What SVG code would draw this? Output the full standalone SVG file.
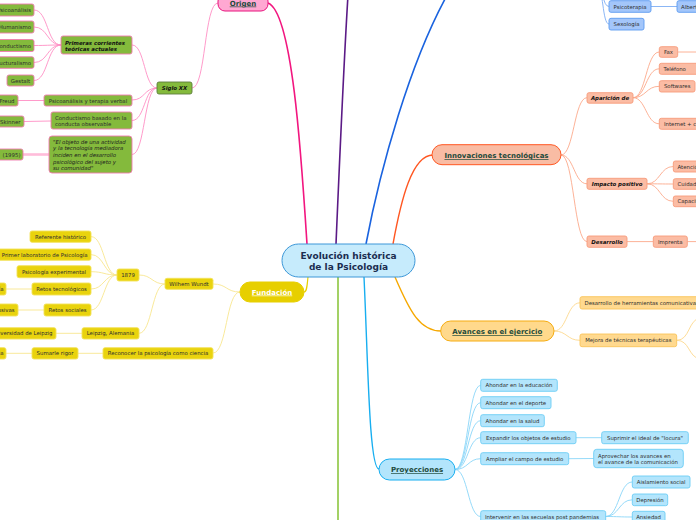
<svg xmlns="http://www.w3.org/2000/svg" width="696" height="520" viewBox="0 0 696 520">
<style>
text{font-family:"DejaVu Sans",Verdana,sans-serif;font-size:5.4px;fill:#2e2e2e}
.m{text-anchor:middle}
.e{text-anchor:end}
.bi{font-weight:bold;font-style:italic;fill:#111}
.it{font-style:italic;fill:#1e1e1e}
.lbl{font-size:7px;font-weight:bold;text-decoration:underline;fill:#1d4a3b;text-anchor:middle}
.ctr{font-size:9px;font-weight:bold;fill:#1b2d50;text-anchor:middle}
.g rect{fill:#84ba3c;stroke:#f07cb0;stroke-width:0.9}
.y rect{fill:#e9d30d;stroke:#f3e25a;stroke-width:0.9}
.s rect{fill:#fbbca4;stroke:#f79b7b;stroke-width:0.9}
.o rect{fill:#ffd98f;stroke:#f9c45a;stroke-width:0.9}
.lb rect{fill:#b3e5fc;stroke:#6ccdf5;stroke-width:0.9}
.db rect{fill:#a3c6fa;stroke:#5c9bf0;stroke-width:0.9}
#connectors path{fill:none}
.cp{stroke:#ff8ec4;stroke-width:0.9}
.cy{stroke:#f8e68e;stroke-width:0.9}
.cs{stroke:#fca98b;stroke-width:0.9}
.co{stroke:#fdd88c;stroke-width:0.9}
.cl{stroke:#8ad6f8;stroke-width:0.9}
.cd{stroke:#7eaef4;stroke-width:0.9}
</style>
<rect width="696" height="520" fill="#ffffff"/>
<g id="connectors">
<path d="M307,244 C301,150 292,12 268,3" stroke="#f2167f" stroke-width="1.6"/>
<path d="M336,244 C340,150 344,60 348,-5" stroke="#5b1a86" stroke-width="1.6"/>
<path d="M366,244 C380,170 410,60 450,-10" stroke="#1a63df" stroke-width="1.6"/>
<path d="M393,244 C401,200 412,155 433,155" stroke="#ff5722" stroke-width="1.4"/>
<path d="M395,277 C410,312 420,331 441,331" stroke="#f6a800" stroke-width="1.4"/>
<path d="M364,277 C368,360 369,469 379,469" stroke="#17aef0" stroke-width="1.4"/>
<path d="M338,277 L338,525" stroke="#8cc63f" stroke-width="1.6"/>
<path d="M308,277 C307,286 307,292 304,292" stroke="#e8d000" stroke-width="1.2"/>
<path class="cp" d="M218,3 C204,3 206,88 192,88"/>
<path class="cp" d="M157,88 C144,88 145,45 132,45"/>
<path class="cp" d="M157,88 C144,88 145,100 132,100"/>
<path class="cp" d="M157,88 C144,88 145,120.5 132,120.5"/>
<path class="cp" d="M157,88 C144,88 145,154.5 132,154.5"/>
<path class="cp" d="M61,45 C47,45 48,10 34,10"/>
<path class="cp" d="M61,45 C47,45 48,27 34,27"/>
<path class="cp" d="M61,45 C47,45 48,45.5 34,45.5"/>
<path class="cp" d="M61,45 C47,45 48,62.5 34,62.5"/>
<path class="cp" d="M61,45 C47,45 48,80.5 34,80.5"/>
<path class="cp" d="M44,100.5 L18,100.5" stroke-width="1.3"/>
<path class="cp" d="M51,121 L24,121.5" stroke-width="1.3" stroke="#ffb6d6"/>
<path d="M49,154.5 L23,154.5" stroke="#ffbcda" stroke-width="2.6"/>
<path class="cy" d="M240,292 C226,292 227,284 213,284"/>
<path class="cy" d="M240,292 C226,292 227,353 213,353"/>
<path class="cy" d="M165,284 C152,284 152,275 139,275"/>
<path class="cy" d="M165,284 C152,284 152,333.3 139,333.3"/>
<path class="cy" d="M117,275 C104,275 104,236.6 91,236.6"/>
<path class="cy" d="M117,275 C104,275 104,254.6 91,254.6"/>
<path class="cy" d="M117,275 C104,275 104,271.7 91,271.7"/>
<path class="cy" d="M117,275 C104,275 104,289 91,289"/>
<path class="cy" d="M117,275 C104,275 104,310 91,310"/>
<path class="cy" d="M32,289 L6,289"/>
<path class="cy" d="M44,310 L18,310"/>
<path class="cy" d="M82,333.3 L56,333.3"/>
<path class="cy" d="M103,353.3 L78,353.3"/>
<path class="cy" d="M32,353.3 L6,353.3"/>
<path class="cd" d="M596,-14 C604,-14 602,6.5 609,6.5"/>
<path class="cd" d="M596,-14 C604,-14 602,24 609,24"/>
<path class="cd" d="M651,6.5 L677,6.5" stroke-width="1.1"/>
<path class="cs" d="M561,155 C574,155 574,97.7 587,97.7"/>
<path class="cs" d="M561,155 C574,155 574,183.8 587,183.8"/>
<path class="cs" d="M561,155 C574,155 574,241.6 587,241.6"/>
<path class="cs" d="M633,97.7 C646,97.7 646,52 659.3,52"/>
<path class="cs" d="M633,97.7 C646,97.7 646,68.8 659.3,68.8"/>
<path class="cs" d="M633,97.7 C646,97.7 646,86.3 659.3,86.3"/>
<path class="cs" d="M633,97.7 C646,97.7 646,123.8 659.3,123.8"/>
<path class="cs" d="M678,52 L700,52"/>
<path class="cs" d="M647,183.8 C660,183.8 660,166.5 673.3,166.5"/>
<path class="cs" d="M647,183.8 C660,183.8 660,184 673.3,184"/>
<path class="cs" d="M647,183.8 C660,183.8 660,201.3 673.3,201.3"/>
<path class="cs" d="M627,241.6 L653.3,241.6"/>
<path class="cs" d="M687.3,241.6 L700,241.6"/>
<path class="co" d="M554,331 C567,331 567,302.8 580,302.8"/>
<path class="co" d="M554,331 C567,331 567,340.3 580,340.3"/>
<path class="co" d="M676.7,340.3 C690,340.3 688,320 700,318"/>
<path class="co" d="M676.7,340.3 C690,340.3 688,357 700,359"/>
<path class="cl" d="M455,469.5 C468,469.5 468,385.3 480.7,385.3"/>
<path class="cl" d="M455,469.5 C468,469.5 468,402.7 480.7,402.7"/>
<path class="cl" d="M455,469.5 C468,469.5 468,420.7 480.7,420.7"/>
<path class="cl" d="M455,469.5 C468,469.5 468,437.7 480.7,437.7"/>
<path class="cl" d="M455,469.5 C468,469.5 468,458.7 480.7,458.7"/>
<path class="cl" d="M455,469.5 C468,469.5 468,516.5 480.7,516.5"/>
<path class="cl" d="M576,437.7 L601.7,437.7" stroke-width="1.2"/>
<path class="cl" d="M568.7,458.7 L593.7,458.5" stroke-width="1.2"/>
<path class="cl" d="M605.7,516.5 C619,516.5 619,482 632.3,482"/>
<path class="cl" d="M605.7,516.5 C619,516.5 619,499.8 632.3,499.8"/>
<path class="cl" d="M605.7,516.5 C619,516.5 619,517 632.3,517"/>
</g>
<g id="center"><rect x="282" y="244" width="133" height="33" rx="16.5" fill="#c6ebfc" stroke="#3c97d8" stroke-width="1"/><text class="ctr" x="348.5" y="259">Evolución histórica</text><text class="ctr" x="348.5" y="270">de la Psicología</text></g>
<g id="origen"><rect x="218" y="-6" width="50" height="17" rx="7" fill="#ffa8d2" stroke="#e8157f" stroke-width="1"/><text class="lbl" x="243" y="5.5">Origen</text></g>
<g id="fundacion"><rect x="240" y="282" width="64" height="20" rx="10" fill="#e7cf00" stroke="#e7cf00" stroke-width="1"/><text class="lbl" x="272" y="294.5" style="fill:#ffffff">Fundación</text></g>
<g id="innovaciones"><rect x="432" y="144.7" width="129" height="20" rx="10" fill="#f9bca4" stroke="#ff5722" stroke-width="1"/><text class="lbl" x="496.5" y="158.2">Innovaciones tecnológicas</text></g>
<g id="avances"><rect x="440.7" y="321" width="113.3" height="20" rx="10" fill="#ffd98c" stroke="#f6ac10" stroke-width="1"/><text class="lbl" x="497.3" y="334.3">Avances en el ejercicio</text></g>
<g id="proyecciones"><rect x="379" y="459" width="76" height="21" rx="10.5" fill="#b3e5fc" stroke="#17aef0" stroke-width="1"/><text class="lbl" x="417" y="472">Proyecciones</text></g>
<g id="siglo-xx" class="g"><rect x="157" y="82" width="35" height="12" rx="2" style="stroke:#5e7d3c"/><text class="m bi" x="174.5" y="90">Siglo XX</text></g>
<g id="primeras" class="g"><rect x="61" y="36" width="71" height="18" rx="2"/><text class="bi" x="65" y="44.8">Primeras corrientes</text><text class="bi" x="65" y="51">teóricas actuales</text></g>
<g id="psicoanalisis" class="g"><rect x="-8" y="4" width="42" height="12" rx="2"/><text class="e" x="31" y="12">Psicoanálisis</text></g>
<g id="humanismo" class="g"><rect x="-8" y="21" width="42" height="12" rx="2"/><text class="e" x="31" y="29">Humanismo</text></g>
<g id="conductismo" class="g"><rect x="-8" y="39.5" width="42" height="12" rx="2"/><text class="e" x="31" y="47.5">Conductismo</text></g>
<g id="estructuralismo" class="g"><rect x="-8" y="56.8" width="42" height="11.5" rx="2"/><text class="e" x="31" y="64.5">Estructuralismo</text></g>
<g id="gestalt" class="g"><rect x="7" y="75" width="27" height="11" rx="2"/><text class="m" x="20.5" y="82.5">Gestalt</text></g>
<g id="psic-terapia" class="g"><rect x="44" y="95" width="88" height="11" rx="2"/><text class="m" x="88" y="102.5">Psicoanálisis y terapia verbal</text></g>
<g id="freud" class="g"><rect x="-12" y="95" width="30" height="11" rx="2"/><text class="e" x="14.5" y="102.5">Freud</text></g>
<g id="conductismo-basado" class="g"><rect x="51" y="112" width="81" height="17" rx="2"/><text x="55" y="119.6">Conductismo basado en la</text><text x="55" y="126.2">conducta observable</text></g>
<g id="skinner" class="g"><rect x="-12" y="116" width="36" height="11" rx="2"/><text class="e" x="20.5" y="123.5">Skinner</text></g>
<g id="cita" class="g"><rect x="49" y="136" width="83" height="37" rx="3"/><text class="it" x="53" y="143.8">"El objeto de una actividad</text><text class="it" x="53" y="150.4">y la tecnología mediadora</text><text class="it" x="53" y="157">inciden en el desarrollo</text><text class="it" x="53" y="163.6">psicológico del sujeto y</text><text class="it" x="53" y="170.2">su comunidad"</text></g>
<g id="anio-1995" class="g"><rect x="-20" y="149" width="43" height="11" rx="2"/><text class="e" x="20.5" y="156.6">(1995)</text></g>
<g id="wundt" class="y"><rect x="165" y="278.3" width="48" height="11" rx="2"/><text class="m" x="189" y="285.8">Wilhem Wundt</text></g>
<g id="reconocer" class="y"><rect x="103" y="347.7" width="110" height="11.3" rx="2"/><text class="m" x="158" y="355.3">Reconocer la psicología como ciencia</text></g>
<g id="n1879" class="y"><rect x="117" y="269" width="22" height="12" rx="2"/><text class="m" x="128" y="277">1879</text></g>
<g id="leipzig" class="y"><rect x="82" y="327.7" width="57" height="11.3" rx="2"/><text class="m" x="110.5" y="335.3">Leipzig, Alemania</text></g>
<g id="referente" class="y"><rect x="30" y="231" width="61" height="11.3" rx="2"/><text class="m" x="60.5" y="238.6">Referente histórico</text></g>
<g id="laboratorio" class="y"><rect x="-6" y="249" width="97" height="11.3" rx="2"/><text class="e" x="87.5" y="256.6">Primer laboratorio de Psicología</text></g>
<g id="experimental" class="y"><rect x="17" y="265.7" width="74" height="12" rx="2"/><text class="m" x="54" y="273.6">Psicología experimental</text></g>
<g id="retos-tec" class="y"><rect x="32" y="283" width="59" height="12" rx="2"/><text class="m" x="61.5" y="290.9">Retos tecnológicos</text></g>
<g id="retos-tec-hijo" class="y"><rect x="-40" y="283" width="46" height="12" rx="2"/><text class="e" x="3.6" y="290.9">Tecnología</text></g>
<g id="retos-soc" class="y"><rect x="44" y="304" width="47" height="12" rx="2"/><text class="m" x="67.5" y="311.9">Retos sociales</text></g>
<g id="retos-soc-hijo" class="y"><rect x="-40" y="304" width="58" height="12" rx="2"/><text class="e" x="14.5" y="311.9">Inclusivas</text></g>
<g id="universidad" class="y"><rect x="-20" y="327.7" width="76" height="11.3" rx="2"/><text class="e" x="52.5" y="335.3">Universidad de Leipzig</text></g>
<g id="rigor" class="y"><rect x="32" y="347.7" width="46" height="11.3" rx="2"/><text class="m" x="55" y="355.3">Sumarle rigor</text></g>
<g id="rigor-hijo" class="y"><rect x="-40" y="347.7" width="46" height="11.3" rx="2"/><text class="e" x="3.6" y="355.3">Ciencia</text></g>
<g id="psicoterapia" class="db"><rect x="609" y="0.7" width="42" height="11.6" rx="2"/><text class="m" x="630" y="8.5">Psicoterapia</text></g>
<g id="sexologia" class="db"><rect x="609" y="18.3" width="35" height="11.7" rx="2"/><text class="m" x="626.5" y="26.1">Sexología</text></g>
<g id="ellis" class="db"><rect x="677" y="0.7" width="40" height="11.6" rx="2"/><text x="681" y="8.5">Albert Ellis</text></g>
<g id="aparicion" class="s"><rect x="587" y="92.7" width="46" height="10.5" rx="2"/><text class="m bi" x="610" y="99.8">Aparición de</text></g>
<g id="fax" class="s"><rect x="659.3" y="46.7" width="18.4" height="10.6" rx="2"/><text class="m" x="668.5" y="54">Fax</text></g>
<g id="telefono" class="s"><rect x="659.3" y="63.3" width="40" height="11" rx="2"/><text x="663.5" y="70.8">Teléfono</text></g>
<g id="softwares" class="s"><rect x="659.3" y="80.7" width="35.7" height="11.3" rx="2"/><text class="m" x="677.2" y="88.3">Softwares</text></g>
<g id="internet" class="s"><rect x="659.3" y="118.3" width="70" height="11" rx="2"/><text x="664" y="125.8">Internet + comunicación</text></g>
<g id="impacto" class="s"><rect x="587" y="178.3" width="60" height="11" rx="2"/><text class="m bi" x="617" y="185.8">Impacto positivo</text></g>
<g id="atencion" class="s"><rect x="673.3" y="161" width="40" height="11" rx="2"/><text x="677.5" y="168.5">Atención</text></g>
<g id="cuidado" class="s"><rect x="673.3" y="178.7" width="40" height="10.6" rx="2"/><text x="677.5" y="186">Cuidado</text></g>
<g id="capacitacion" class="s"><rect x="673.3" y="196" width="40" height="10.7" rx="2"/><text x="677.5" y="203.3">Capacitación</text></g>
<g id="desarrollo" class="s"><rect x="587" y="236" width="40" height="11.3" rx="2"/><text class="m bi" x="607" y="243.7">Desarrollo</text></g>
<g id="imprenta" class="s"><rect x="653.3" y="236" width="34" height="11.3" rx="2"/><text class="m" x="670.3" y="243.7">Imprenta</text></g>
<g id="herramientas" class="o"><rect x="580" y="296.7" width="130" height="12.3" rx="2"/><text x="584.5" y="304.8">Desarrollo de herramientas comunicativas</text></g>
<g id="mejora" class="o"><rect x="580" y="334" width="96.7" height="12.7" rx="2"/><text class="m" x="628.3" y="342.3">Mejora de técnicas terapéuticas</text></g>
<g id="educacion" class="lb"><rect x="480.7" y="379.3" width="76.6" height="12" rx="2"/><text class="m" x="519" y="387.3">Ahondar en la educación</text></g>
<g id="deporte" class="lb"><rect x="480.7" y="396.7" width="70.3" height="12" rx="2"/><text class="m" x="515.8" y="404.7">Ahondar en el deporte</text></g>
<g id="salud" class="lb"><rect x="480.7" y="414.7" width="63.6" height="12" rx="2"/><text class="m" x="512.5" y="422.7">Ahondar en la salud</text></g>
<g id="expandir" class="lb"><rect x="480.7" y="431.7" width="95.3" height="12" rx="2"/><text class="m" x="528.3" y="439.7">Expandir los objetos de estudio</text></g>
<g id="suprimir" class="lb"><rect x="601.7" y="431.7" width="86.6" height="12" rx="2"/><text class="m" x="645" y="439.7">Suprimir el ideal de "locura"</text></g>
<g id="ampliar" class="lb"><rect x="480.7" y="452.7" width="88" height="12" rx="2"/><text class="m" x="524.7" y="460.7">Ampliar el campo de estudio</text></g>
<g id="aprovechar" class="lb"><rect x="593.7" y="449.3" width="89.6" height="18.4" rx="3"/><text x="598" y="457.9">Aprovechar los avances en</text><text x="598" y="464.3">el avance de la comunicación</text></g>
<g id="intervenir" class="lb"><rect x="480.7" y="510.7" width="125" height="13" rx="2"/><text x="485" y="518.7">Intervenir en las secuelas post pandemias</text></g>
<g id="aislamiento" class="lb"><rect x="632.3" y="476" width="57.7" height="12" rx="2"/><text class="m" x="661.2" y="484">Aislamiento social</text></g>
<g id="depresion" class="lb"><rect x="632.3" y="494" width="35.4" height="11.7" rx="2"/><text class="m" x="650" y="501.9">Depresión</text></g>
<g id="ansiedad" class="lb"><rect x="632.3" y="511.3" width="32.7" height="12" rx="2"/><text class="m" x="648.6" y="519.3">Ansiedad</text></g>
</svg>
